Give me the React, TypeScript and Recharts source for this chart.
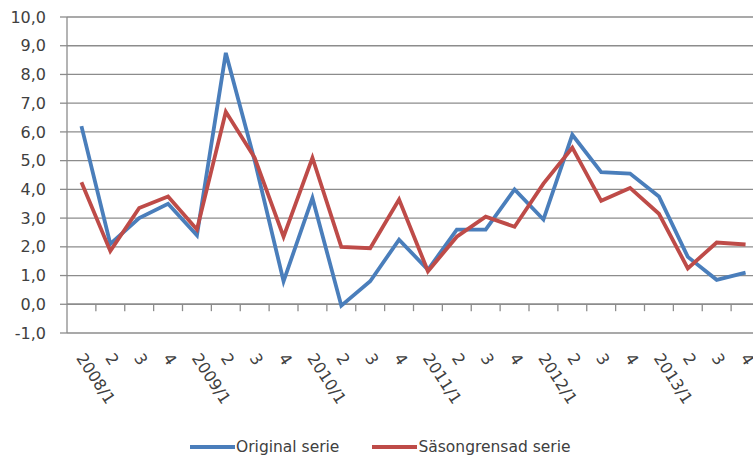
import React from 'react';
import { LineChart, Line, XAxis, YAxis, CartesianGrid, ReferenceLine, Legend } from 'recharts';

const categories = ['2008/1', '2', '3', '4', '2009/1', '2', '3', '4', '2010/1', '2', '3', '4', '2011/1', '2', '3', '4', '2012/1', '2', '3', '4', '2013/1', '2', '3', '4'];
const originalSerie = [6.2, 2.1, 3.0, 3.5, 2.4, 8.75, 5.0, 0.8, 3.7, -0.05, 0.8, 2.25, 1.2, 2.6, 2.6, 4.0, 2.95, 5.9, 4.6, 4.55, 3.75, 1.65, 0.85, 1.1];
const sasongrensadSerie = [4.25, 1.85, 3.35, 3.75, 2.6, 6.7, 5.1, 2.35, 5.1, 2.0, 1.95, 3.65, 1.15, 2.35, 3.05, 2.7, 4.2, 5.45, 3.6, 4.05, 3.15, 1.25, 2.15, 2.08];
const yTicks = [-1, 0, 1, 2, 3, 4, 5, 6, 7, 8, 9, 10];
const seriesNames = ['Original serie', 'Säsongrensad serie'];

const BLUE = '#4a7ebb';
const RED = '#be4b48';
const GRID = '#8c8c8c';
const TEXT = '#404040';
const FONT = 'DejaVu Sans, Verdana, sans-serif';

const data = categories.map((c, i) => ({
  pos: i + 0.5,
  label: c,
  original: originalSerie[i],
  sasong: sasongrensadSerie[i],
}));
const labelTicks = categories.map((_, i) => i + 0.5);
const boundaries = categories.map((_, i) => i + 1);

const fmt = (v: number) => v.toFixed(1).replace('.', ',');

const XLabel = (props: any) => {
  const { x, y, payload } = props;
  const idx = Math.round(payload.value - 0.5);
  const ax = x - 1;
  const ay = y + 22;
  return (
    <text
      x={ax}
      y={ay}
      transform={`rotate(57, ${ax}, ${ay})`}
      textAnchor="start"
      dominantBaseline="central"
      fontSize={16}
      fontFamily={FONT}
      fill={TEXT}
    >
      {categories[idx]}
    </text>
  );
};

const LegendContent = () => (
  <div style={{ display: 'flex', justifyContent: 'flex-start', alignItems: 'center', fontFamily: FONT, fontSize: 15.5, color: TEXT, height: 30, paddingTop: 14, boxSizing: 'border-box', paddingLeft: 190 }}>
    <span style={{ display: 'inline-block', width: 45, height: 3.5, background: BLUE }} />
    <span style={{ marginLeft: 1 }}>{seriesNames[0]}</span>
    <span style={{ display: 'inline-block', width: 45, height: 3.5, background: RED, marginLeft: 33 }} />
    <span style={{ marginLeft: 1 }}>{seriesNames[1]}</span>
  </div>
);

export default function App() {
  return (
    <div style={{ position: 'absolute', left: 0, top: 0, width: 753, height: 455, overflow: 'hidden', background: '#fff' }}>
      <LineChart width={775} height={455} data={data} margin={{ top: 17, right: 15, left: 0, bottom: 0 }}>
        <CartesianGrid vertical={false} stroke={GRID} strokeWidth={1.3} />
        <XAxis
          dataKey="pos"
          type="number"
          domain={[0, categories.length]}
          ticks={labelTicks}
          interval={0}
          axisLine={false}
          tickLine={false}
          tickSize={0}
          tickMargin={0}
          height={92}
          tick={<XLabel />}
        />
        <YAxis
          type="number"
          domain={[-1, 10]}
          ticks={yTicks}
          interval={0}
          width={67}
          axisLine={{ stroke: GRID, strokeWidth: 1.3 }}
          tickLine={{ stroke: GRID, strokeWidth: 1.3 }}
          tickSize={7}
          tickMargin={14}
          tickFormatter={fmt}
          tick={{ fill: TEXT, fontSize: 16, fontFamily: FONT }}
        />
        <ReferenceLine y={0} stroke={GRID} strokeWidth={1.3} />
        {boundaries.map((b) => (
          <ReferenceLine
            key={b}
            segment={[{ x: b, y: 0 }, { x: b, y: -0.24 }]}
            stroke={GRID}
            strokeWidth={1.3}
          />
        ))}
        <Line type="linear" dataKey="original" name={seriesNames[0]} stroke={BLUE} strokeWidth={3.8} dot={false} isAnimationActive={false} />
        <Line type="linear" dataKey="sasong" name={seriesNames[1]} stroke={RED} strokeWidth={3.8} dot={false} isAnimationActive={false} />
        <Legend verticalAlign="bottom" align="left" wrapperStyle={{ height: 30, width: 775, left: 0, bottom: 0 }} content={<LegendContent />} />
      </LineChart>
    </div>
  );
}
